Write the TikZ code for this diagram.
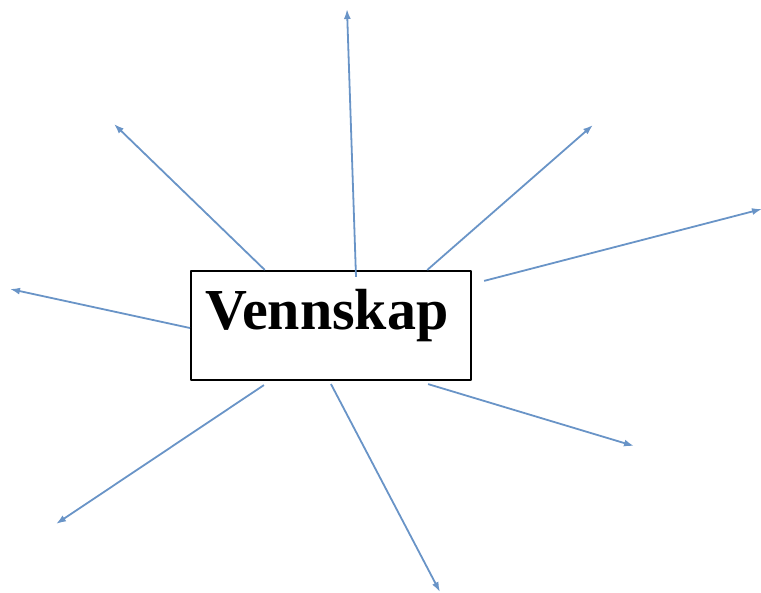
\documentclass[tikz,border=0pt]{standalone}
\usepackage{fontspec}
\setmainfont{Liberation Serif}
\usetikzlibrary{arrows.meta}
\definecolor{rayblue}{RGB}{79,129,189}
\tikzset{
  ray/.style={draw=rayblue!85,line width=1.8pt,-{Latex[length=10pt,width=7pt]}},
  titlebox/.style={draw=black,line width=2.2pt,inner xsep=0pt,inner ysep=0pt,
    minimum width=280pt,text height=59pt,text depth=50pt,
    font=\fontsize{58}{60}\selectfont\bfseries}
}
\begin{document}
\begin{tikzpicture}[x=1pt,y=-1pt,join=round] % word in a box with rays out
        \useasboundingbox (0,0) rectangle (761,593);
        \node[titlebox] (box) at (331,325.5) {\hspace*{-8pt}Vennskap};
        \coordinate (t1) at (114,124);
        \coordinate (t2) at (347,9);
        \coordinate (t3) at (593,125);
        \coordinate (t4) at (762,209);
        \coordinate (t5) at (10,289);
        \coordinate (t6) at (56,524);
        \coordinate (t7) at (440,592);
        \coordinate (t8) at (634,446);
        \draw[ray] (box.140) -- (t1);
        \draw[ray] ([shift={(25pt,-7pt)}]box.north) -- (t2);
        \draw[ray] (box.30) -- (t3);
        \draw[ray] ([shift={(12pt,-11pt)}]box.north east) -- (t4);
        \draw[ray] ([yshift=-2.5pt]box.west) -- (t5);
        \draw[ray] ([shift={(74pt,-4pt)}]box.south west) -- (t6);
        \draw[ray] ([yshift=-3pt]box.south) -- (t7);
        \draw[ray] ([shift={(-44pt,-3pt)}]box.south east) -- (t8);
    \end{tikzpicture}
\end{document}
